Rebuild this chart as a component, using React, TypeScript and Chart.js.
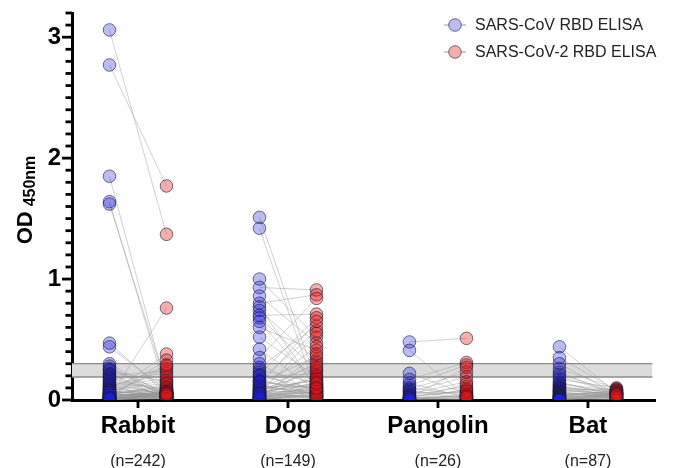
import React, { useEffect, useRef } from 'react';
import { Chart, registerables } from 'chart.js';

Chart.register(...registerables);

// ---------- data ----------
const categories = ['Rabbit', 'Dog', 'Pangolin', 'Bat'];
const sampleSizes = ['(n=242)', '(n=149)', '(n=26)', '(n=87)'];
const seriesNames = ['SARS-CoV RBD ELISA', 'SARS-CoV-2 RBD ELISA'];
const yAxisMin = 0;
const yAxisMax = 3.2;
const yMajorTicks = [0, 1, 2, 3];
const yMinorStep = 0.1;
const cutoffBand = [0.19, 0.3];

const rabbitCoV = [
  3.06, 2.77, 1.85, 1.64, 1.62, 0.47, 0.44, 0.02, 0.05, 0.03,
  0.10, 0.30, 0.28, 0.26, 0.25, 0.24, 0.22, 0.21, 0.20, 0.19,
  0.18, 0.17, 0.16, 0.15, 0.14, 0.13, 0.12, 0.12, 0.11, 0.10,
  0.09, 0.09, 0.08, 0.08, 0.07, 0.07, 0.06, 0.06, 0.06, 0.05,
  0.05, 0.05, 0.04, 0.04, 0.04, 0.04, 0.03, 0.03, 0.03, 0.03,
  0.02, 0.02, 0.02, 0.02, 0.02, 0.01, 0.01, 0.01, 0.01, 0.01,
  0.01, 0.00, 0.00, 0.00, 0.00, 0.00, 0.00, 0.00, 0.00, 0.00,
  0.03, 0.05, 0.08, 0.02, 0.04, 0.01, 0.00, 0.06, 0.02, 0.01,
];
const rabbitCoV2 = [
  1.37, 1.77, 0.10, 0.06, 0.12, 0.05, 0.08, 0.76, 0.38, 0.33,
  0.28, 0.04, 0.02, 0.06, 0.03, 0.15, 0.01, 0.05, 0.24, 0.02,
  0.07, 0.22, 0.03, 0.09, 0.04, 0.20, 0.01, 0.05, 0.18, 0.03,
  0.06, 0.16, 0.02, 0.14, 0.04, 0.05, 0.26, 0.01, 0.08, 0.03,
  0.11, 0.05, 0.02, 0.06, 0.13, 0.04, 0.01, 0.07, 0.03, 0.05,
  0.09, 0.02, 0.06, 0.04, 0.01, 0.05, 0.03, 0.08, 0.02, 0.06,
  0.04, 0.05, 0.03, 0.07, 0.02, 0.01, 0.06, 0.04, 0.05, 0.03,
  0.29, 0.10, 0.02, 0.07, 0.05, 0.04, 0.06, 0.01, 0.03, 0.05,
];

const dogCoV = [
  1.51, 1.42, 1.00, 0.93, 0.86, 0.80, 0.77, 0.74, 0.70, 0.68,
  0.65, 0.60, 0.52, 0.42, 0.35, 0.30, 0.27, 0.25, 0.23, 0.21,
  0.19, 0.17, 0.16, 0.15, 0.14, 0.13, 0.12, 0.11, 0.10, 0.10,
  0.09, 0.09, 0.08, 0.08, 0.07, 0.07, 0.06, 0.06, 0.05, 0.05,
  0.05, 0.04, 0.04, 0.04, 0.03, 0.03, 0.03, 0.02, 0.02, 0.02,
  0.02, 0.01, 0.01, 0.01, 0.01, 0.00, 0.00, 0.00, 0.00, 0.00,
  0.08, 0.12, 0.20, 0.05, 0.03, 0.01, 0.06, 0.15,
];
const dogCoV2 = [
  0.15, 0.06, 0.52, 0.91, 0.47, 0.87, 0.10, 0.33, 0.71, 0.25,
  0.12, 0.41, 0.19, 0.08, 0.84, 0.05, 0.61, 0.14, 0.03, 0.68,
  0.22, 0.04, 0.57, 0.09, 0.36, 0.02, 0.65, 0.11, 0.29, 0.07,
  0.16, 0.44, 0.05, 0.24, 0.13, 0.01, 0.08, 0.31, 0.03, 0.18,
  0.06, 0.10, 0.27, 0.02, 0.12, 0.04, 0.20, 0.07, 0.09, 0.15,
  0.03, 0.05, 0.11, 0.38, 0.02, 0.06, 0.08, 0.13, 0.01, 0.04,
  0.17, 0.05, 0.09, 0.55, 0.07, 0.03, 0.14, 0.10,
];

const pangolinCoV = [
  0.48, 0.41, 0.22, 0.17, 0.14, 0.12, 0.10, 0.09, 0.08, 0.07,
  0.06, 0.05, 0.04, 0.03, 0.02, 0.02, 0.01, 0.01, 0.00, 0.00,
  0.00, 0.01, 0.02, 0.03, 0.00, 0.01,
];
const pangolinCoV2 = [
  0.51, 0.03, 0.05, 0.31, 0.02, 0.29, 0.04, 0.23, 0.01, 0.19,
  0.06, 0.15, 0.11, 0.08, 0.27, 0.03, 0.02, 0.13, 0.05, 0.01,
  0.09, 0.04, 0.00, 0.07, 0.02, 0.03,
];

const batCoV = [
  0.44, 0.35, 0.30, 0.26, 0.23, 0.21, 0.19, 0.17, 0.15, 0.14,
  0.13, 0.12, 0.11, 0.10, 0.10, 0.09, 0.08, 0.08, 0.07, 0.07,
  0.06, 0.06, 0.05, 0.05, 0.04, 0.04, 0.04, 0.03, 0.03, 0.03,
  0.02, 0.02, 0.02, 0.02, 0.01, 0.01, 0.01, 0.01, 0.00, 0.00,
  0.00, 0.00,
];
const batCoV2 = [
  0.06, 0.08, 0.05, 0.09, 0.04, 0.07, 0.06, 0.10, 0.03, 0.05,
  0.08, 0.02, 0.06, 0.04, 0.07, 0.03, 0.05, 0.09, 0.01, 0.06,
  0.04, 0.02, 0.05, 0.03, 0.07, 0.01, 0.04, 0.06, 0.02, 0.08,
  0.03, 0.05, 0.00, 0.04, 0.02, 0.06, 0.01, 0.03, 0.05, 0.00,
  0.02, 0.04,
];

// ---------- styling ----------
const FONT = "'Liberation Sans', Arial, Helvetica, sans-serif";
const BLUE_FILL = 'rgba(30, 30, 225, 0.3)';
const RED_FILL = 'rgba(225, 20, 20, 0.35)';
const POINT_BORDER = 'rgba(25, 25, 45, 0.75)';
const LINK_COLOR = 'rgba(150, 150, 150, 0.75)';
const PAIR_OFFSET = 0.19;
const X_MIN = -0.44;
const X_MAX = 3.447;
const BAND_X_END = 3.43;
const AXIS_W = 3;
const TICK_COLOR = '#000';

const groups: number[][][] = [
  [rabbitCoV, rabbitCoV2],
  [dogCoV, dogCoV2],
  [pangolinCoV, pangolinCoV2],
  [batCoV, batCoV2],
];

const isMajor = (v: number) => yMajorTicks.some((m) => Math.abs(m - v) < 1e-6);

// axis tick marks, placed with the Chart.js scales
const tickMarksPlugin = {
  id: 'tickMarks',
  afterDraw(chart: any) {
    const ctx = chart.ctx;
    const ys = chart.scales.y;
    const xs = chart.scales.x;
    const left = ys.right;
    const bottom = xs.top;
    ctx.save();
    ctx.fillStyle = TICK_COLOR;
    const nMinor = Math.round((yAxisMax - yAxisMin) / yMinorStep);
    for (let k = 0; k <= nMinor; k++) {
      const v = yAxisMin + k * yMinorStep;
      const py = ys.getPixelForValue(v);
      const len = isMajor(v) ? 10 : 6.5;
      ctx.fillRect(left - len, py - 1.4, len, 2.8);
    }
    categories.forEach((_, i) => {
      const px = xs.getPixelForValue(i);
      ctx.fillRect(px - 1.4, bottom, 2.8, 8);
    });
    ctx.restore();
  },
};

const legendPlugin = {
  id: 'customLegend',
  afterDraw(chart: any) {
    const ctx = chart.ctx;
    const fills = [BLUE_FILL, RED_FILL];
    const cx = chart.chartArea.right - 200;
    seriesNames.forEach((name, i) => {
      const cy = 25 + i * 27;
      ctx.save();
      ctx.strokeStyle = '#9a9a9a';
      ctx.lineWidth = 1;
      ctx.beginPath();
      ctx.moveTo(cx - 11, cy);
      ctx.lineTo(cx + 11, cy);
      ctx.stroke();
      ctx.beginPath();
      ctx.arc(cx, cy, 6.3, 0, Math.PI * 2);
      ctx.fillStyle = '#fff';
      ctx.fill();
      ctx.fillStyle = fills[i];
      ctx.fill();
      ctx.strokeStyle = POINT_BORDER;
      ctx.lineWidth = 0.8;
      ctx.stroke();
      ctx.fillStyle = '#222';
      ctx.font = `16px ${FONT}`;
      ctx.textBaseline = 'middle';
      ctx.textAlign = 'left';
      ctx.fillText(name, cx + 20, cy + 1);
      ctx.restore();
    });
  },
};

const yTitlePlugin = {
  id: 'yTitle',
  afterDraw(chart: any) {
    const ctx = chart.ctx;
    const mainFont = `bold 22px ${FONT}`;
    const subFont = `bold 16px ${FONT}`;
    ctx.save();
    ctx.font = mainFont;
    const wMain = ctx.measureText('OD').width;
    ctx.font = subFont;
    const wSub = ctx.measureText('450nm').width;
    const gap = 5;
    const total = wMain + gap + wSub;
    ctx.translate(32, 200);
    ctx.rotate(-Math.PI / 2);
    ctx.fillStyle = '#000';
    ctx.textBaseline = 'alphabetic';
    ctx.textAlign = 'left';
    ctx.font = mainFont;
    ctx.fillText('OD', -total / 2, 0);
    ctx.font = subFont;
    ctx.fillText('450nm', -total / 2 + wMain + gap, 3);
    ctx.restore();
  },
};

export default function App() {
  const canvasRef = useRef<HTMLCanvasElement | null>(null);

  useEffect(() => {
    if (!canvasRef.current) return;

    const blueData = groups.flatMap(([a], i) => a.map((v) => ({ x: i - PAIR_OFFSET, y: v })));
    const redData = groups.flatMap(([, b], i) => b.map((v) => ({ x: i + PAIR_OFFSET, y: v })));
    const linkData: { x: number; y: number | null }[] = [];
    groups.forEach(([a, b], i) => {
      const n = Math.min(a.length, b.length);
      for (let k = 0; k < n; k++) {
        linkData.push({ x: i - PAIR_OFFSET, y: a[k] });
        linkData.push({ x: i + PAIR_OFFSET, y: b[k] });
        linkData.push({ x: i, y: null });
      }
    });

    const catTicks = (s: any) => {
      s.ticks = categories.map((_, i) => ({ value: i }));
    };

    const chart = new Chart(canvasRef.current, {
      type: 'scatter',
      data: {
        datasets: [
          {
            label: seriesNames[0],
            data: blueData,
            backgroundColor: BLUE_FILL,
            borderColor: POINT_BORDER,
            borderWidth: 0.8,
            pointRadius: 6.3,
            order: 0,
          },
          {
            label: seriesNames[1],
            data: redData,
            backgroundColor: RED_FILL,
            borderColor: POINT_BORDER,
            borderWidth: 0.8,
            pointRadius: 6.3,
            order: 0,
          },
          {
            type: 'line',
            label: 'pairs',
            data: linkData as any,
            borderColor: LINK_COLOR,
            borderWidth: 0.6,
            pointRadius: 0,
            spanGaps: false,
            tension: 0,
            fill: false,
            order: 1,
          } as any,
          {
            type: 'line',
            label: 'bandTop',
            data: [
              { x: X_MIN, y: cutoffBand[1] },
              { x: BAND_X_END, y: cutoffBand[1] },
            ],
            borderColor: '#8c8c8c',
            borderWidth: 1.3,
            pointRadius: 0,
            fill: false,
            order: 3,
          } as any,
          {
            type: 'line',
            label: 'bandBottom',
            data: [
              { x: X_MIN, y: cutoffBand[0] },
              { x: BAND_X_END, y: cutoffBand[0] },
            ],
            borderColor: '#8c8c8c',
            borderWidth: 1.3,
            pointRadius: 0,
            fill: '-1',
            backgroundColor: '#dcdcdc',
            order: 3,
          } as any,
        ],
      },
      options: {
        responsive: false,
        animation: false,
        layout: { padding: { top: 13, right: 20, left: 0, bottom: 0 } },
        plugins: {
          legend: { display: false },
          tooltip: { enabled: false },
        },
        scales: {
          x: {
            type: 'linear',
            position: 'bottom',
            min: X_MIN,
            max: X_MAX,
            weight: 0,
            afterBuildTicks: catTicks,
            afterFit: (s: any) => {
              s.height = 40;
              s.paddingLeft = 0;
              s.paddingRight = 0;
            },
            border: { display: true, color: '#000', width: AXIS_W },
            grid: { display: false, drawTicks: false },
            ticks: {
              autoSkip: false,
              maxRotation: 0,
              padding: 12,
              color: '#000',
              font: { family: FONT, size: 24, weight: 'bold' },
              callback: (v: any) => categories[Math.round(Number(v))] ?? '',
            },
          },
          xN: {
            type: 'linear',
            position: 'bottom',
            min: X_MIN,
            max: X_MAX,
            weight: 1,
            afterBuildTicks: catTicks,
            afterFit: (s: any) => {
              s.height = 28;
              s.paddingLeft = 0;
              s.paddingRight = 0;
            },
            border: { display: false },
            grid: { display: false, drawTicks: false },
            ticks: {
              autoSkip: false,
              maxRotation: 0,
              padding: 12,
              color: '#222',
              font: { family: FONT, size: 16 },
              callback: (v: any) => sampleSizes[Math.round(Number(v))] ?? '',
            },
          },
          y: {
            type: 'linear',
            position: 'left',
            min: yAxisMin,
            max: yAxisMax,
            afterBuildTicks: (s: any) => {
              s.ticks = yMajorTicks.map((v) => ({ value: v }));
            },
            afterFit: (s: any) => {
              s.width = 72;
              s.paddingTop = 0;
              s.paddingBottom = 0;
            },
            border: { display: true, color: '#000', width: AXIS_W },
            grid: { display: false, drawTicks: false },
            ticks: {
              autoSkip: false,
              padding: 11,
              color: '#000',
              font: { family: FONT, size: 24, weight: 'bold' },
              callback: (v: any) => String(v),
            },
          },
        },
      } as any,
      plugins: [legendPlugin, yTitlePlugin, tickMarksPlugin],
    });

    return () => chart.destroy();
  }, []);

  return (
    <div style={{ position: 'fixed', left: 0, top: 0, width: 675, height: 468, background: '#fff' }}>
      <canvas ref={canvasRef} width={675} height={468} style={{ display: 'block' }} />
    </div>
  );
}
